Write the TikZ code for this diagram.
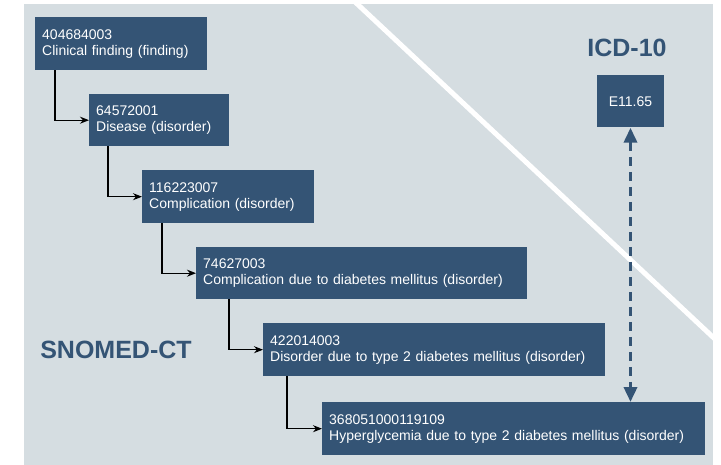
\documentclass[tikz,border=0pt]{standalone}
\usepackage{fontspec}
\setmainfont{Liberation Sans}
\usetikzlibrary{arrows.meta}
\definecolor{panel}{RGB}{213,221,225}
\definecolor{navy}{RGB}{52,84,117}
\begin{document}
\begin{tikzpicture}[x=1pt,y=-1pt,
  concept/.style={fill=navy,text=white,anchor=north west,inner xsep=7pt,inner ysep=0pt,
    align=left,font=\fontsize{14}{16}\selectfont},
  tree/.style={draw=black,line width=1.3pt,-{Stealth[length=9pt,width=7pt]}},
  mapping/.style={draw=navy,line width=3.5pt,dash pattern=on 9pt off 6pt,
    {Triangle[length=15pt,width=13pt]}-{Triangle[length=15pt,width=13pt]}},
  heading/.style={text=navy,font=\fontsize{25}{29}\selectfont\bfseries}]
\useasboundingbox (0,0) rectangle (721,465);
% panel and dividing stripe
\fill[panel] (24,4) rectangle (713,465);
\begin{scope}
  \clip (24,4) rectangle (713,465);
  \draw[white,line width=5pt] (353,0) -- (716,340);
\end{scope}
% SNOMED-CT hierarchy
\node[concept,minimum width=172pt,minimum height=53pt,text width=158pt] (c1) at (35,17)
  {404684003\\Clinical finding (finding)};
\node[concept,minimum width=140pt,minimum height=52pt,text width=126pt] (c2) at (89,94)
  {64572001\\Disease (disorder)};
\node[concept,minimum width=172pt,minimum height=53pt,text width=158pt] (c3) at (142,170)
  {116223007\\Complication (disorder)};
\node[concept,minimum width=331pt,minimum height=52pt,text width=317pt] (c4) at (196,247)
  {74627003\\Complication due to diabetes mellitus (disorder)};
\node[concept,minimum width=342pt,minimum height=53pt,text width=328pt] (c5) at (263,323)
  {422014003\\Disorder due to type 2 diabetes mellitus (disorder)};
\node[concept,minimum width=383pt,minimum height=53pt,text width=369pt] (c6) at (322,402)
  {368051000119109\\Hyperglycemia due to type 2 diabetes mellitus (disorder)};
% ICD-10 code
\node[concept,anchor=center,minimum width=67pt,minimum height=52pt,align=center] (icd) at (630.5,101.5)
  {E11.65};
% headings
\node[heading] (snomed) at (116,350) {SNOMED-CT};
\node[heading] (icdhead) at (627,48) {ICD-10};
% is-a links
\draw[tree] ([xshift=20pt]c1.south west) |- (c2.west);
\draw[tree] ([xshift=19pt]c2.south west) |- (c3.west);
\draw[tree] ([xshift=20pt]c3.south west) |- (c4.west);
\draw[tree] ([xshift=33pt]c4.south west) |- (c5.west);
\draw[tree] ([xshift=24pt]c5.south west) |- (c6.west);
% code mapping
\draw[mapping] (icd.south) -- (icd.south |- c6.north);
\end{tikzpicture}
\end{document}
